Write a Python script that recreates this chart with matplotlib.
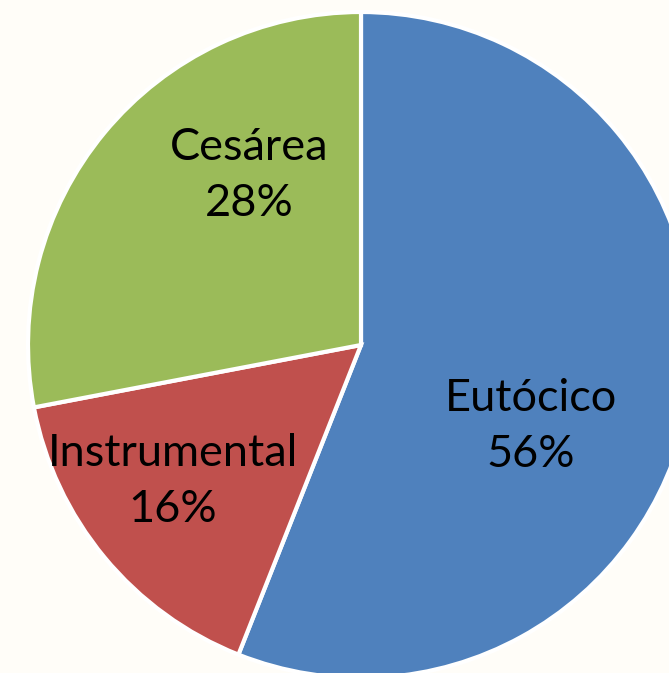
import matplotlib.pyplot as plt

labels = ['Eutócico', 'Instrumental', 'Cesárea']
values = [56, 16, 28]
colors = ['#4F81BD', '#C0504D', '#9BBB59']

# where the labels sit inside each wedge (pie radius = 1)
label_pos = [(0.51, -0.245), (-0.565, -0.41), (-0.335, 0.51)]

fig = plt.figure(figsize=(6.69, 6.73), dpi=100)
fig.patch.set_facecolor('#FFFDF8')
ax = fig.add_axes([0, 0, 1, 1])
ax.set_facecolor('#FFFDF8')

wedges, _ = ax.pie(values, colors=colors, startangle=90, counterclock=False,
                   wedgeprops=dict(edgecolor='white', linewidth=3))

total = sum(values)
for name, v, (x, y) in zip(labels, values, label_pos):
    ax.text(x, y, '{}\n{:.0f}%'.format(name, 100 * v / total), ha='center', va='center',
            fontsize=32.5, family='Lato', linespacing=1.45)

# pie is cropped by the image edges on the right and bottom
ax.set_xlim(-361 / 333, (669 - 361) / 333)
ax.set_ylim(-(673 - 345) / 333, 345 / 333)
ax.set_aspect('equal')
ax.axis('off')

fig.savefig('out.png', dpi=100, facecolor=fig.get_facecolor())
